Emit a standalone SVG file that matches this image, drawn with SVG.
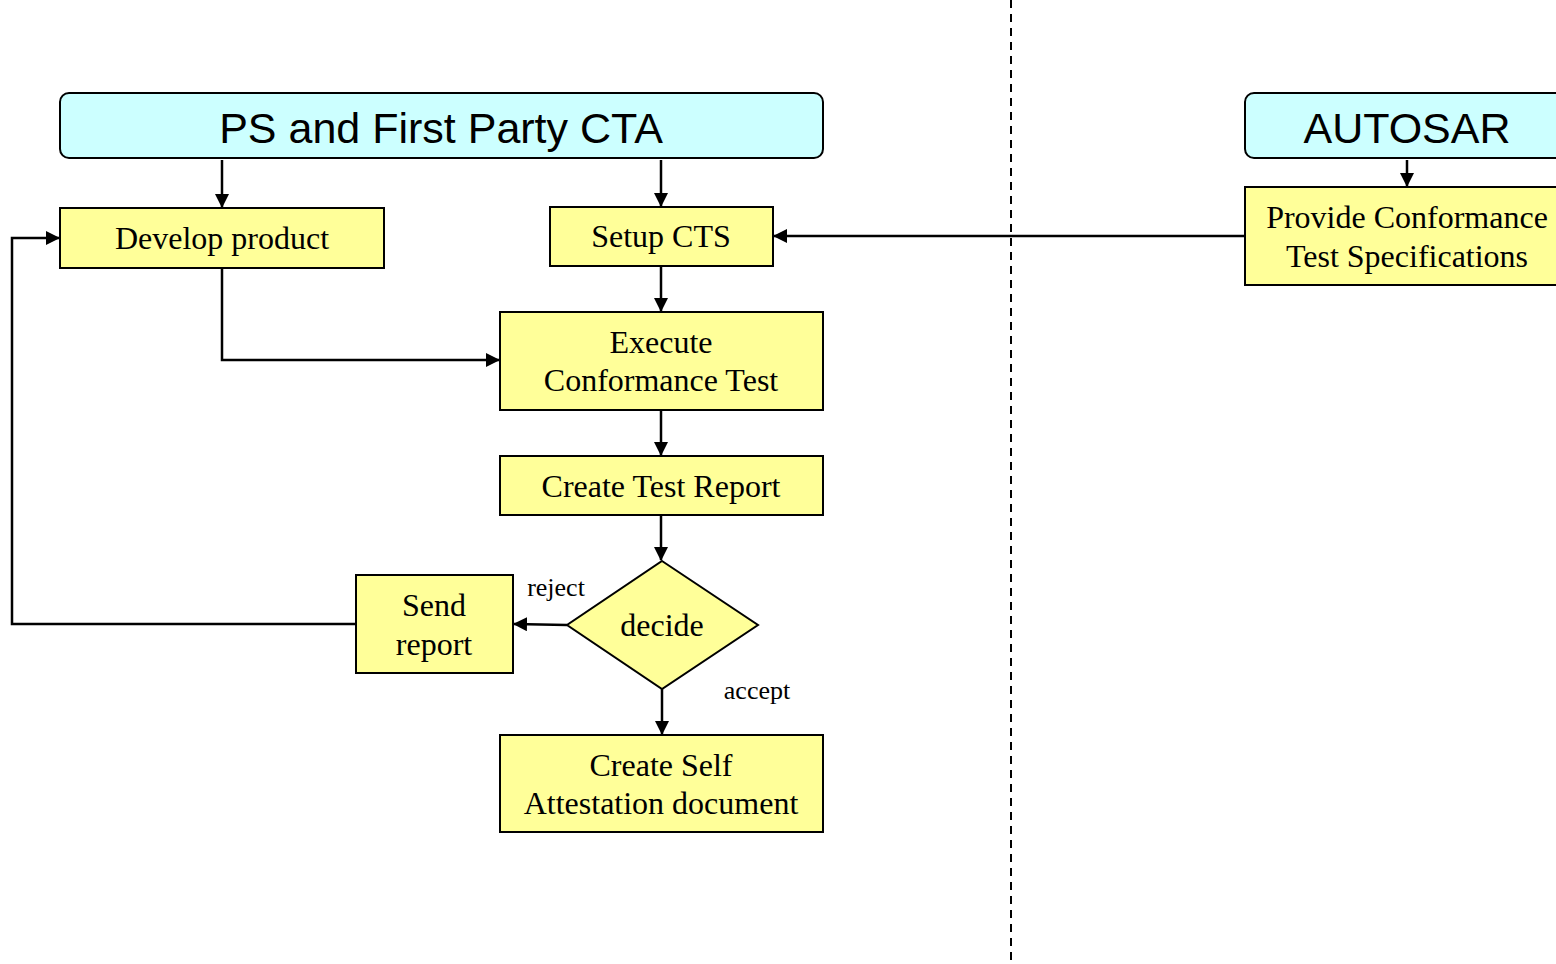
<svg xmlns="http://www.w3.org/2000/svg" width="1556" height="964" viewBox="0 0 1556 964">
<defs>
<marker id="ah" markerWidth="14" markerHeight="14" refX="13" refY="7" orient="auto" markerUnits="userSpaceOnUse">
<path d="M0,0 L14,7 L0,14 Z" fill="#000"/>
</marker>
<style>
.hdr{fill:#CCFFFF;stroke:#000;stroke-width:2}
.box{fill:#FFFF99;stroke:#000;stroke-width:2}
.ht{font-family:"Liberation Sans",Arial,sans-serif;font-size:43px;text-anchor:middle;fill:#000}
.t{font-family:"Liberation Serif","Times New Roman",serif;font-size:32px;text-anchor:middle;fill:#000}
.lbl{font-family:"Liberation Serif","Times New Roman",serif;font-size:26px;text-anchor:middle;fill:#000}
.c{fill:none;stroke:#000;stroke-width:2.5;marker-end:url(#ah)}
</style>
</defs>
<rect width="1556" height="964" fill="#fff"/>
<line x1="1011" y1="0" x2="1011" y2="964" stroke="#000" stroke-width="2" stroke-dasharray="8,6"/>
<g id="ps-header"><rect class="hdr" x="60" y="93" width="763" height="65" rx="9"/><text class="ht" x="441" y="143">PS and First Party CTA</text></g>
<g id="autosar-header"><rect class="hdr" x="1245" y="93" width="330" height="65" rx="9"/><text class="ht" x="1407" y="143">AUTOSAR</text></g>
<g id="develop"><rect class="box" x="60" y="208" width="324" height="60"/><text class="t" x="222" y="249">Develop product</text></g>
<g id="setup"><rect class="box" x="550" y="207" width="223" height="59"/><text class="t" x="661" y="247">Setup CTS</text></g>
<g id="provide"><rect class="box" x="1245" y="187" width="330" height="98"/><text class="t" x="1407" y="228">Provide Conformance</text><text class="t" x="1407" y="267">Test Specifications</text></g>
<g id="execute"><rect class="box" x="500" y="312" width="323" height="98"/><text class="t" x="661" y="353">Execute</text><text class="t" x="661" y="391">Conformance Test</text></g>
<g id="report"><rect class="box" x="500" y="456" width="323" height="59"/><text class="t" x="661" y="497">Create Test Report</text></g>
<g id="decide"><polygon class="box" points="662,561 758,625 662,689 567,625"/><text class="t" x="662" y="636">decide</text></g>
<g id="send"><rect class="box" x="356" y="575" width="157" height="98"/><text class="t" x="434" y="616">Send</text><text class="t" x="434" y="655">report</text></g>
<g id="selfatt"><rect class="box" x="500" y="735" width="323" height="97"/><text class="t" x="661" y="776">Create Self</text><text class="t" x="661" y="814">Attestation document</text></g>
<g id="connectors">
<path class="c" d="M222,160 L222,207"/>
<path class="c" d="M661,160 L661,206"/>
<path class="c" d="M1407,160 L1407,186"/>
<path class="c" d="M1245,236 L774,236"/>
<path class="c" d="M661,266 L661,311"/>
<path class="c" d="M222,268 L222,360 L499,360"/>
<path class="c" d="M661,410 L661,455"/>
<path class="c" d="M661,515 L661,560"/>
<path class="c" d="M662,689 L662,734"/>
<path class="c" d="M567,625 L514,624"/>
<path class="c" d="M356,624 L12,624 L12,238 L59,238"/>
<text class="lbl" x="556" y="596">reject</text>
<text class="lbl" x="757" y="699">accept</text>
</g>
</svg>
